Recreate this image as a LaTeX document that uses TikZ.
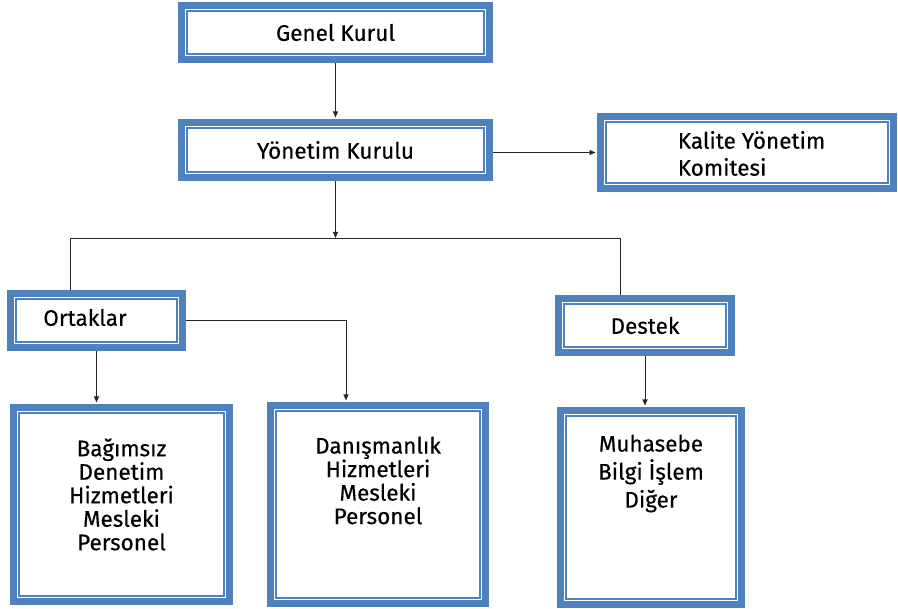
\documentclass[tikz,border=0pt]{standalone}
\usepackage{fontspec}
\setmainfont{Fira Sans}[FakeBold=0.3]
\usetikzlibrary{arrows.meta,positioning,calc}
\definecolor{orgblue}{RGB}{79,129,189}

\begin{document}
\begin{tikzpicture}[x=1pt,y=-1pt,
      font=\fontsize{22.5}{23.5}\selectfont,
      box/.style={draw=orgblue,line width=7pt,fill=white,align=center,inner sep=0pt},
      inner/.style={draw=orgblue,line width=1.3pt},
      txt/.style={align=center,inner sep=0pt},
      conn/.style={line width=0.9pt,draw=black!85},
      arr/.style={conn,-{Triangle[length=6pt,width=5pt]},shorten >=1.5pt}]
    \useasboundingbox (0,0) rectangle (898,609);
    \node[box,minimum width=308pt,minimum height=54pt] (gk) at (335.5,32.5) {Genel Kurul};
    \node[box,minimum width=308pt,minimum height=55pt] (yk) at (335.5,150) {Yönetim Kurulu};
    \node[box,minimum width=293pt,minimum height=72pt,
          label={[txt,align=left,xshift=4.5pt,yshift=-1pt,
                  font=\fontsize{22.5}{27}\selectfont,name=kalt]center:Kalite Yönetim\\Komitesi}]
          (kal) at (747,152.5) {};
    \node[box,minimum width=172pt,minimum height=54pt,
          label={[txt,xshift=-11.5pt,yshift=3pt,name=ortt]center:Ortaklar}] (ort) at (96.5,320.5) {};
    \node[box,minimum width=173pt,minimum height=54pt] (des) at (645,325.5) {Destek};
    \node[box,minimum width=216pt,minimum height=194pt,
          label={[txt,yshift=10pt,name=bagt]center:Bağımsız\\Denetim\\Hizmetleri\\Mesleki\\Personel}]
          (bag) at (121.5,504.5) {};
    \node[box,minimum width=215pt,minimum height=198pt,
          label={[txt,yshift=24pt,name=dant]center:Danışmanlık\\Hizmetleri\\Mesleki\\Personel}]
          (dan) at (378,504.5) {};
    \node[box,minimum width=181pt,minimum height=194pt,
          label={[txt,yshift=34pt,font=\fontsize{22.5}{28}\selectfont,name=muht]center:Muhasebe\\Bilgi İşlem\\Diğer}]
          (muh) at (651,507.5) {};
    % thin inner frame
    \foreach \n in {gk,yk,kal,ort,des,bag,dan,muh}
      \draw[inner] ($(\n.south west)+(9pt,9pt)$) rectangle ($(\n.north east)-(9pt,9pt)$);
    % bus under Yonetim Kurulu
    \coordinate (bus) at (335.5,238);
    \coordinate (busL) at (70,238);
    \coordinate (busR) at (620,238);
    \draw[arr] (gk) -- (yk);
    \draw[arr] (yk.east |- kal.west) -- (kal.west);
    \draw[arr,shorten >=0pt] (yk) -- (bus);
    \draw[conn] (busL) -- (busR);
    \draw[conn] (busL) -- (busL |- ort.north);
    \draw[conn] (busR) -- (busR |- des.north);
    \draw[arr] (ort.south) -- (ort.south |- bag.north);
    \draw[arr] (ort.east) -| (346,0 |- dan.north);
    \draw[arr] (des.south) -- (des.south |- muh.north);
  \end{tikzpicture}
\end{document}
